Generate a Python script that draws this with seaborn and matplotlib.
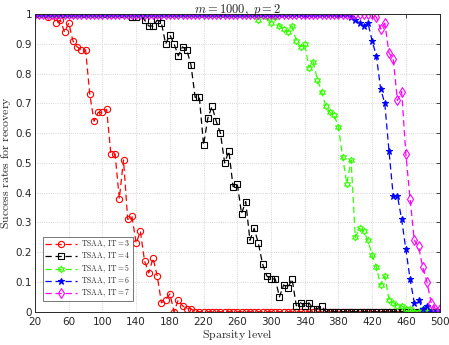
import numpy as np
import pandas as pd
import seaborn as sns
import matplotlib.pyplot as plt

# Sparsity levels 20, 25, ..., 500
sparsity = [20, 25, 30, 35, 40, 45, 50, 55, 60, 65,
            70, 75, 80, 85, 90, 95, 100, 105, 110, 115,
            120, 125, 130, 135, 140, 145, 150, 155, 160, 165,
            170, 175, 180, 185, 190, 195, 200, 205, 210, 215,
            220, 225, 230, 235, 240, 245, 250, 255, 260, 265,
            270, 275, 280, 285, 290, 295, 300, 305, 310, 315,
            320, 325, 330, 335, 340, 345, 350, 355, 360, 365,
            370, 375, 380, 385, 390, 395, 400, 405, 410, 415,
            420, 425, 430, 435, 440, 445, 450, 455, 460, 465,
            470, 475, 480, 485, 490, 495, 500]

it3 = [1, 1, 1, 0.99, 1, 0.97, 0.98, 0.94, 0.97, 0.91,
       0.89, 0.88, 0.88, 0.73, 0.64, 0.67, 0.67, 0.68, 0.53, 0.53,
       0.38, 0.51, 0.31, 0.32, 0.23, 0.27, 0.17, 0.13, 0.18, 0.12,
       0.03, 0.04, 0.06, 0.0, 0.04, 0.02, 0.01, 0.01, 0, 0,
       0, 0, 0, 0, 0, 0, 0, 0, 0, 0,
       0, 0, 0, 0, 0, 0, 0, 0, 0, 0,
       0, 0, 0, 0, 0, 0, 0, 0, 0, 0,
       0, 0, 0, 0, 0, 0, 0, 0, 0, 0,
       0, 0, 0, 0, 0, 0, 0, 0, 0, 0,
       0, 0, 0, 0, 0, 0, 0]

it4 = [1, 1, 1, 1, 1, 1, 1, 1, 1, 1,
       1, 1, 1, 1, 1, 1, 1, 1, 1, 1,
       1, 1, 1, 0.99, 0.99, 1, 0.98, 0.96, 0.96, 0.98,
       0.97, 0.90, 0.93, 0.90, 0.86, 0.89, 0.88, 0.83, 0.72, 0.72,
       0.56, 0.65, 0.69, 0.64, 0.60, 0.50, 0.54, 0.42, 0.43, 0.33,
       0.37, 0.24, 0.28, 0.23, 0.16, 0.12, 0.11, 0.11, 0.05, 0.09,
       0.08, 0.11, 0.02, 0.03, 0.02, 0.03, 0.01, 0.01, 0.02, 0,
       0, 0, 0, 0, 0, 0, 0, 0, 0, 0,
       0, 0, 0, 0, 0, 0, 0, 0, 0, 0,
       0, 0, 0, 0, 0, 0, 0]

it5 = [1, 1, 1, 1, 1, 1, 1, 1, 1, 1,
       1, 1, 1, 1, 1, 1, 1, 1, 1, 1,
       1, 1, 1, 1, 1, 1, 1, 1, 1, 1,
       1, 1, 1, 1, 1, 1, 1, 1, 1, 1,
       1, 1, 1, 1, 1, 1, 1, 1, 1, 1,
       1, 1, 1, 0.98, 1, 0.99, 0.97, 0.99, 0.96, 0.95,
       0.94, 0.96, 0.91, 0.89, 0.90, 0.82, 0.84, 0.78, 0.74, 0.69,
       0.67, 0.66, 0.62, 0.52, 0.43, 0.51, 0.25, 0.28, 0.27, 0.24,
       0.19, 0.15, 0.09, 0.12, 0.04, 0.03, 0.02, 0.02, 0.01, 0.01,
       0, 0, 0.01, 0, 0, 0, 0]

it6 = [1, 1, 1, 1, 1, 1, 1, 1, 1, 1,
       1, 1, 1, 1, 1, 1, 1, 1, 1, 1,
       1, 1, 1, 1, 1, 1, 1, 1, 1, 1,
       1, 1, 1, 1, 1, 1, 1, 1, 1, 1,
       1, 1, 1, 1, 1, 1, 1, 1, 1, 1,
       1, 1, 1, 1, 1, 1, 1, 1, 1, 1,
       1, 1, 1, 1, 1, 1, 1, 1, 1, 1,
       1, 1, 1, 1, 1, 0.99, 0.98, 0.97, 0.96, 0.97,
       0.91, 0.86, 0.75, 0.70, 0.54, 0.39, 0.39, 0.31, 0.21, 0.11,
       0.03, 0.04, 0.01, 0.02, 0, 0, 0]

it7 = [1, 1, 1, 1, 1, 1, 1, 1, 1, 1,
       1, 1, 1, 1, 1, 1, 1, 1, 1, 1,
       1, 1, 1, 1, 1, 1, 1, 1, 1, 1,
       1, 1, 1, 1, 1, 1, 1, 1, 1, 1,
       1, 1, 1, 1, 1, 1, 1, 1, 1, 1,
       1, 1, 1, 1, 1, 1, 1, 1, 1, 1,
       1, 1, 1, 1, 1, 1, 1, 1, 1, 1,
       1, 1, 1, 1, 1, 1, 1, 1, 1, 1,
       1, 0.99, 0.95, 0.97, 0.87, 0.85, 0.71, 0.74, 0.53, 0.38,
       0.24, 0.22, 0.15, 0.10, 0.03, 0.01, 0.01]

labels = ['TSAA, IT=3', 'TSAA, IT=4', 'TSAA, IT=5', 'TSAA, IT=6', 'TSAA, IT=7']
series = [it3, it4, it5, it6, it7]
colors = ['#ff0000', '#000000', '#33ff00', '#0000ff', '#ff00ff']
markers = ['o', 's', (6, 1, 0), '*', 'd']
msizes = [4.5, 4.5, 5, 4.5, 5]
filled = [False, False, False, True, False]

sns.set_style('white')
plt.rcParams['mathtext.fontset'] = 'cm'
plt.rcParams['font.family'] = ['DejaVu Sans']

fig = plt.figure(figsize=(4.49, 3.45), dpi=100)
ax = fig.add_axes([0.078, 0.0965, 0.901, 0.8625])

for lab, vals, c, m, ms, f in zip(labels, series, colors, markers, msizes, filled):
    df = pd.DataFrame({'sparsity': sparsity, 'rate': vals})
    sns.lineplot(data=df, x='sparsity', y='rate', ax=ax, color=c,
                 linestyle=(0, (5, 3)), linewidth=0.9, marker=m, markersize=ms,
                 markerfacecolor=c if f else 'none', markeredgecolor=c,
                 markeredgewidth=0.8,
                 label=r'$\mathrm{' + lab.replace(' ', r'\ ') + '}$')

ax.set_xlim(20, 500)
ax.set_ylim(0, 1)
ax.set_xticks(np.arange(20, 501, 40))
ax.set_yticks(np.arange(0, 1.01, 0.1))
ax.set_yticklabels(['0', '0.1', '0.2', '0.3', '0.4', '0.5', '0.6', '0.7', '0.8', '0.9', '1'])
ax.tick_params(direction='in', top=True, right=True, labelsize=7.5, length=3,
               width=0.6)
ax.tick_params(axis='x', pad=3.5)
ax.tick_params(axis='y', pad=2)
ax.grid(True, linestyle=':', linewidth=0.6, color='#c8c8c8')
for sp in ax.spines.values():
    sp.set_linewidth(0.7)
    sp.set_color('#262626')

ax.set_xlabel(r'$\mathrm{Sparsity\ level}$', fontsize=8.5, labelpad=1)
ax.set_ylabel(r'$\mathrm{Success\ rates\ for\ recovery}$', fontsize=8.5, labelpad=2)
ax.set_title(r'$m=1000,\ p=2$', fontsize=9, pad=1)

leg = ax.legend(loc='lower left', fontsize=5.5, frameon=True, fancybox=False,
                edgecolor='#555555', handlelength=4.2, handletextpad=0.5,
                borderpad=0.3, labelspacing=0.05, borderaxespad=0,
                bbox_to_anchor=(0.02, 0.035))
leg.get_frame().set_linewidth(0.7)

fig.savefig('out.png', dpi=100)
